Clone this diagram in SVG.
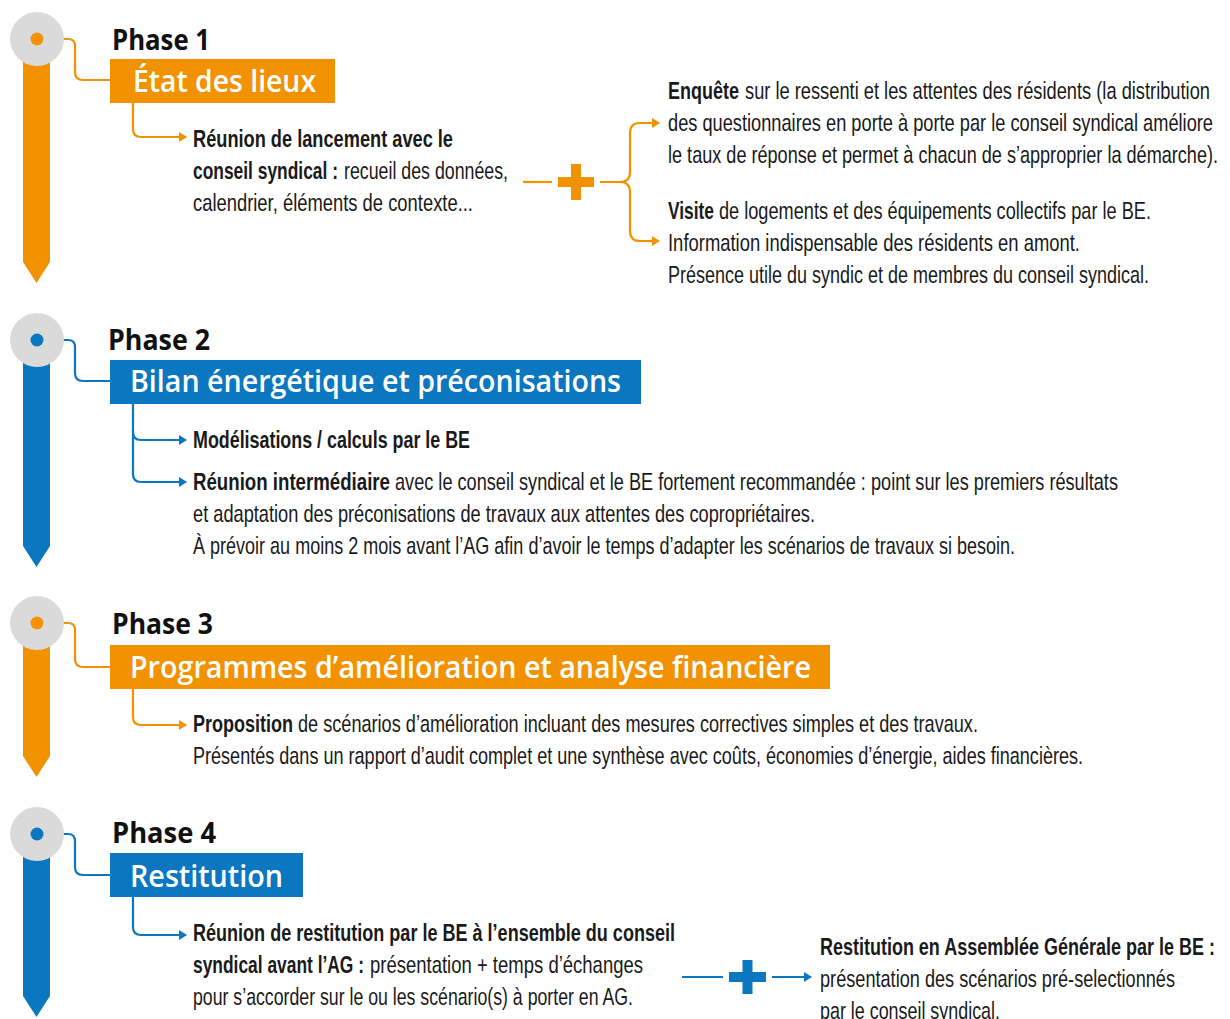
<svg xmlns="http://www.w3.org/2000/svg" width="1230" height="1019" viewBox="0 0 1230 1019">
<style>
.t{font-family:"Liberation Sans",Arial,sans-serif;font-size:24px;fill:#1a1a1a}
.b{font-weight:bold}
.ph{font-family:"Open Sans","Liberation Sans",sans-serif;font-size:28px;font-weight:bold;fill:#111}
.bt{font-family:"Open Sans","Liberation Sans",sans-serif;font-size:30px;font-weight:600;fill:#fff}
.co{fill:none;stroke:#F39200;stroke-width:2.2}
.cb{fill:none;stroke:#0A77C0;stroke-width:2.2}
.o{fill:#F39200}
.bl{fill:#0A77C0}
.g{fill:#DADADA}
</style>
<defs>
<marker id="ao" markerWidth="8" markerHeight="10" refX="7" refY="5" orient="auto" markerUnits="userSpaceOnUse"><path d="M0,0 L8,5 L0,10 Z" fill="#F39200"/></marker>
<marker id="ab" markerWidth="8" markerHeight="10" refX="7" refY="5" orient="auto" markerUnits="userSpaceOnUse"><path d="M0,0 L8,5 L0,10 Z" fill="#0A77C0"/></marker>
</defs>

<g id="connectors">
<path class="co" d="M63,39 H68 Q75,39 75,46 V72 Q75,80 83,80 H110"/>
<path class="co" d="M133,103 V129 Q133,137 141,137 H186" marker-end="url(#ao)"/>
<path class="co" d="M523,182 H552"/>
<path class="co" d="M600,182 H620 Q630,182 630,172 V133 Q630,123 640,123 H659" marker-end="url(#ao)"/>
<path class="co" d="M620,182 Q630,182 630,192 V231 Q630,241 640,241 H659" marker-end="url(#ao)"/>
<path class="cb" d="M63,340 H68 Q75,340 75,347 V373 Q75,381 83,381 H110"/>
<path class="cb" d="M133,404 V432 Q133,440 141,440 H186" marker-end="url(#ab)"/>
<path class="cb" d="M133,430 V474 Q133,482 141,482 H186" marker-end="url(#ab)"/>
<path class="co" d="M63,623 H68 Q75,623 75,630 V659 Q75,667 83,667 H110"/>
<path class="co" d="M133,689 V717 Q133,725 141,725 H186" marker-end="url(#ao)"/>
<path class="cb" d="M63,834 H68 Q75,834 75,841 V867 Q75,875 83,875 H110"/>
<path class="cb" d="M133,897 V927 Q133,935 141,935 H186" marker-end="url(#ab)"/>
<path class="cb" d="M682,977 H723"/>
<path class="cb" d="M772,977 H811" marker-end="url(#ab)"/>
</g>

<g id="phase1">
<polygon class="o" points="23,45 50,45 50,262 36.5,283 23,262"/>
<circle class="g" cx="37" cy="39" r="27"/>
<circle class="o" cx="37" cy="39" r="6.5"/>
<text class="ph" x="112" y="50" textLength="98" lengthAdjust="spacingAndGlyphs">Phase 1</text>
<rect class="o" x="110" y="59" width="225" height="44"/>
<text class="bt" x="133" y="92" textLength="183" lengthAdjust="spacingAndGlyphs">État des lieux</text>
<text class="t b" transform="translate(193,147) scale(.76,1)" textLength="342.1" lengthAdjust="spacingAndGlyphs">Réunion de lancement avec le</text>
<text class="t b" transform="translate(193,179) scale(.76,1)" textLength="190.8" lengthAdjust="spacingAndGlyphs">conseil syndical :</text>
<text class="t" transform="translate(344,179) scale(.76,1)" textLength="215.8" lengthAdjust="spacingAndGlyphs">recueil des données,</text>
<text class="t" transform="translate(193,211) scale(.76,1)" textLength="368.4" lengthAdjust="spacingAndGlyphs">calendrier, éléments de contexte...</text>
</g>

<g id="plus1">
<rect class="o" x="558" y="177" width="36" height="10"/>
<rect class="o" x="571" y="164" width="10" height="36"/>
</g>

<g id="enquete">
<text class="t b" transform="translate(668,99) scale(.76,1)" textLength="93.4" lengthAdjust="spacingAndGlyphs">Enquête</text>
<text class="t" transform="translate(745,99) scale(.76,1)" textLength="611.8" lengthAdjust="spacingAndGlyphs">sur le ressenti et les attentes des résidents (la distribution</text>
<text class="t" transform="translate(668,131) scale(.76,1)" textLength="717.1" lengthAdjust="spacingAndGlyphs">des questionnaires en porte à porte par le conseil syndical améliore</text>
<text class="t" transform="translate(668,163) scale(.76,1)" textLength="723.7" lengthAdjust="spacingAndGlyphs">le taux de réponse et permet à chacun de s’approprier la démarche).</text>
</g>

<g id="visite">
<text class="t b" transform="translate(668,219) scale(.76,1)" textLength="60.5" lengthAdjust="spacingAndGlyphs">Visite</text>
<text class="t" transform="translate(719,219) scale(.76,1)" textLength="568.4" lengthAdjust="spacingAndGlyphs">de logements et des équipements collectifs par le BE.</text>
<text class="t" transform="translate(668,251) scale(.76,1)" textLength="542.1" lengthAdjust="spacingAndGlyphs">Information indispensable des résidents en amont.</text>
<text class="t" transform="translate(668,283) scale(.76,1)" textLength="632.9" lengthAdjust="spacingAndGlyphs">Présence utile du syndic et de membres du conseil syndical.</text>
</g>

<g id="phase2">
<polygon class="bl" points="23,345 50,345 50,546 36.5,567 23,546"/>
<circle class="g" cx="37" cy="340" r="27"/>
<circle class="bl" cx="37" cy="340" r="6.5"/>
<text class="ph" x="108" y="350" textLength="102" lengthAdjust="spacingAndGlyphs">Phase 2</text>
<rect class="bl" x="110" y="360" width="531" height="44"/>
<text class="bt" x="130" y="392" textLength="491" lengthAdjust="spacingAndGlyphs">Bilan énergétique et préconisations</text>
<text class="t b" transform="translate(193,448) scale(.76,1)" textLength="364.5" lengthAdjust="spacingAndGlyphs">Modélisations / calculs par le BE</text>
<text class="t b" transform="translate(193,490) scale(.76,1)" textLength="259.2" lengthAdjust="spacingAndGlyphs">Réunion intermédiaire</text>
<text class="t" transform="translate(395,490) scale(.76,1)" textLength="951.3" lengthAdjust="spacingAndGlyphs">avec le conseil syndical et le BE fortement recommandée : point sur les premiers résultats</text>
<text class="t" transform="translate(193,522) scale(.76,1)" textLength="818.4" lengthAdjust="spacingAndGlyphs">et adaptation des préconisations de travaux aux attentes des copropriétaires.</text>
<text class="t" transform="translate(193,554) scale(.76,1)" textLength="1081.6" lengthAdjust="spacingAndGlyphs">À prévoir au moins 2 mois avant l’AG afin d’avoir le temps d’adapter les scénarios de travaux si besoin.</text>
</g>

<g id="phase3">
<polygon class="o" points="23,628 50,628 50,756 36.5,777 23,756"/>
<circle class="g" cx="37" cy="623" r="27"/>
<circle class="o" cx="37" cy="623" r="6.5"/>
<text class="ph" x="112" y="634" textLength="101" lengthAdjust="spacingAndGlyphs">Phase 3</text>
<rect class="o" x="110" y="645" width="720" height="44"/>
<text class="bt" x="130" y="678" textLength="681" lengthAdjust="spacingAndGlyphs">Programmes d’amélioration et analyse financière</text>
<text class="t b" transform="translate(193,732) scale(.76,1)" textLength="131.6" lengthAdjust="spacingAndGlyphs">Proposition</text>
<text class="t" transform="translate(298,732) scale(.76,1)" textLength="894.7" lengthAdjust="spacingAndGlyphs">de scénarios d’amélioration incluant des mesures correctives simples et des travaux.</text>
<text class="t" transform="translate(193,764) scale(.76,1)" textLength="1171.1" lengthAdjust="spacingAndGlyphs">Présentés dans un rapport d’audit complet et une synthèse avec coûts, économies d’énergie, aides financières.</text>
</g>

<g id="phase4">
<polygon class="bl" points="23,838 50,838 50,996 36.5,1017 23,996"/>
<circle class="g" cx="37" cy="834" r="27"/>
<circle class="bl" cx="37" cy="834" r="6.5"/>
<text class="ph" x="112" y="843" textLength="104" lengthAdjust="spacingAndGlyphs">Phase 4</text>
<rect class="bl" x="110" y="853" width="193" height="44"/>
<text class="bt" x="130" y="887" textLength="153" lengthAdjust="spacingAndGlyphs">Restitution</text>
<text class="t b" transform="translate(193,941) scale(.76,1)" textLength="634.2" lengthAdjust="spacingAndGlyphs">Réunion de restitution par le BE à l’ensemble du conseil</text>
<text class="t b" transform="translate(193,973) scale(.76,1)" textLength="225" lengthAdjust="spacingAndGlyphs">syndical avant l’AG :</text>
<text class="t" transform="translate(370,973) scale(.76,1)" textLength="359.2" lengthAdjust="spacingAndGlyphs">présentation + temps d’échanges</text>
<text class="t" transform="translate(193,1005) scale(.76,1)" textLength="578.9" lengthAdjust="spacingAndGlyphs">pour s’accorder sur le ou les scénario(s) à porter en AG.</text>
</g>

<g id="plus4">
<rect class="bl" x="729" y="972" width="37" height="10"/>
<rect class="bl" x="742.5" y="960" width="10" height="34"/>
</g>

<g id="restitution-ag">
<text class="t b" transform="translate(820,955) scale(.76,1)" textLength="519.7" lengthAdjust="spacingAndGlyphs">Restitution en Assemblée Générale par le BE :</text>
<text class="t" transform="translate(820,987) scale(.76,1)" textLength="467.1" lengthAdjust="spacingAndGlyphs">présentation des scénarios pré-selectionnés</text>
<text class="t" transform="translate(820,1019) scale(.76,1)" textLength="236.8" lengthAdjust="spacingAndGlyphs">par le conseil syndical.</text>
</g>
</svg>
